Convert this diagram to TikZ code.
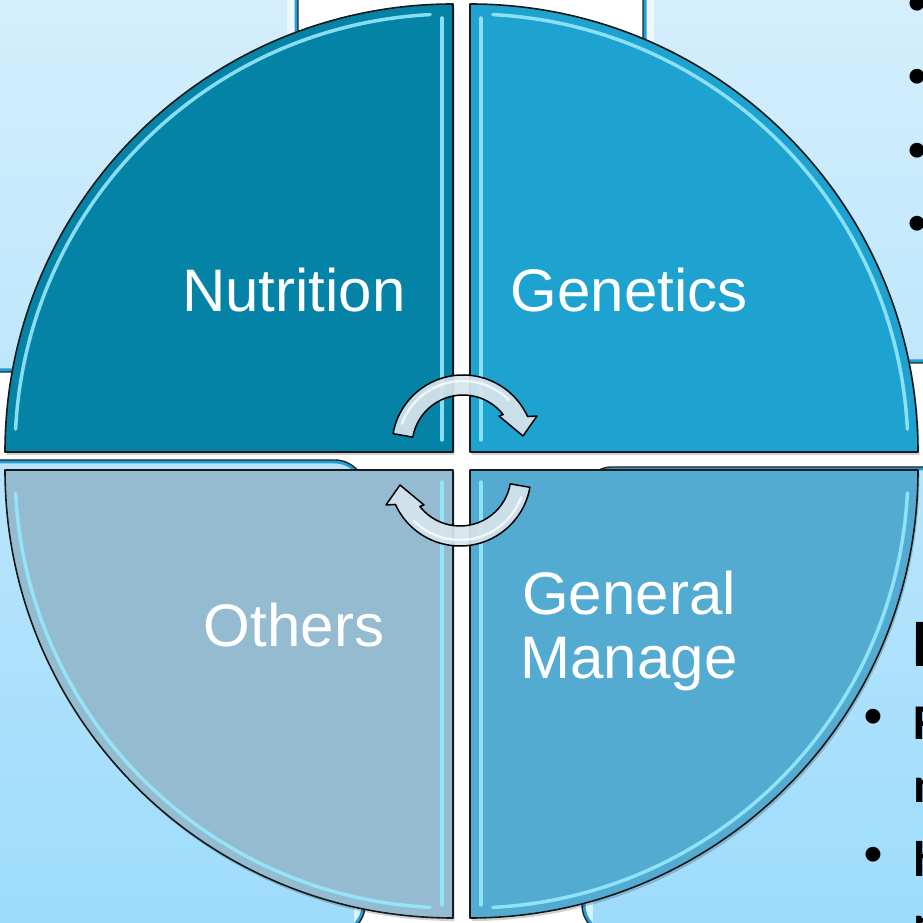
\documentclass[tikz,border=0pt]{standalone}
\usepackage{fontspec}
\setmainfont{Liberation Sans}
\newfontfamily\slidefont{Carlito}
\usepackage{tikz}
\usetikzlibrary{positioning}
\definecolor{nutri}{RGB}{5,131,166}
\definecolor{genet}{RGB}{30,162,207}
\definecolor{manage}{RGB}{84,171,209}
\definecolor{others}{RGB}{148,187,208}
\definecolor{bgtop}{RGB}{212,238,252}
\definecolor{bgbot}{RGB}{158,220,252}
\definecolor{bandc}{RGB}{30,160,215}
\definecolor{bevelc}{RGB}{150,232,252}
\definecolor{arrowc}{RGB}{214,228,235}
\tikzset{
    quarter/.style={draw=black!90, line width=1.6pt, line join=round},
    qshadow/.style={fill=black, opacity=.18},
    bevel/.style={draw=bevelc, line width=3.5pt, opacity=.9, line cap=round},
    quadtext/.style={text=white, font=\fontsize{60}{64}\selectfont, inner sep=0pt, align=center},
    slidebox/.style={draw=black!85, line width=1.4pt, rounded corners=30pt},
    band/.style={draw=bandc, line width=7pt, rounded corners=30pt},
    glow/.style={draw=white, line width=22pt, opacity=.6},
    slidetext/.style={font=\slidefont\bfseries\fontsize{50}{60}\selectfont, inner sep=0pt, anchor=base west},
    dotmark/.style={font=\slidefont\bfseries\fontsize{35}{40}\selectfont, inner sep=0pt, anchor=base},
    arrowbody/.style={fill=arrowc, fill opacity=.93, draw=black, line width=1.5pt, line join=round},
    cyclearrow/.pic={
        \filldraw[arrowbody] (170:71) arc[start angle=170, end angle=24.5, radius=71]
            -- (74,30) -- (60,10) -- (36,30) -- (38:51)
            arc[start angle=38, end angle=170, radius=51] -- cycle;
        \draw[white, opacity=.7, line width=2.5pt, line cap=round]
            (160:65) arc[start angle=160, end angle=45, radius=65];
    }
}

\begin{document}
\begin{tikzpicture}[x=1pt, y=1pt]
    \useasboundingbox (0,0) rectangle (923,923);
    \clip (0,0) rectangle (923,923);
    % slide boxes behind the circle
    \foreach \xa/\ya/\xb/\yb/\gx in {-40/551/298/963/298, 643/560/963/963/643,
            -40/-12/365/463/365, 582/-12/963/456/582} {
        \begin{scope}
            \clip[rounded corners=30pt] (\xa,\ya) rectangle (\xb,\yb);
            \shade[top color=bgtop, bottom color=bgbot] (0,0) rectangle (923,923);
            \draw[glow] (\gx,\ya) -- (\gx,\yb);
            \draw[band] (\xa,\ya) rectangle (\xb,\yb);
        \end{scope}
        \draw[slidebox] (\xa,\ya) rectangle (\xb,\yb);
    }
    % the four quarters
    \foreach \cx/\cy/\a/\col/\hx/\ha/\hb in {453/471/90/nutri/442/483/905,
            470/471/0/genet/481/483/905, 453/453/180/others/442/18/441,
            470/453/270/manage/481/18/441} {
        \fill[qshadow] (\cx+1.5,\cy-3) -- ++(\a:448) arc[start angle=\a, delta angle=90, radius=448] -- cycle;
        \fill[\col] (\cx,\cy) -- ++(\a:448) arc[start angle=\a, delta angle=90, radius=448] -- cycle;
        \draw[bevel] (\cx,\cy) ++(\a+3:438) arc[start angle=\a+3, end angle=\a+87, radius=438];
        \draw[bevel] (\hx,\ha) -- (\hx,\hb);
        \draw[quarter] (\cx,\cy) -- ++(\a:448) arc[start angle=\a, delta angle=90, radius=448] -- cycle;
    }
    \node[quadtext, anchor=base] (nutrition) at (294,611) {Nutrition};
    \node[quadtext, anchor=base] (genetics) at (629,611) {Genetics};
    \node[quadtext, anchor=base] (others) at (294,276) {Others};
    \node[quadtext] (manage) at (629,292) {General\\Manage};
    \pic (turnA) at (463,477) {cyclearrow};
    \pic[rotate=180] (turnB) at (460,448) {cyclearrow};
    % slide text cut off at the right
    \foreach \y [count=\i] in {909,836,762,689}
        \node[dotmark] (dot\i) at (917,\y) {•};
    \node[dotmark] (dot5) at (873,196) {•};
    \node[dotmark] (dot6) at (873,58) {•};
    \node[slidetext, font=\slidefont\bfseries\fontsize{68}{80}\selectfont] (head) at (912,256) {E};
    \node[slidetext] (lineA) at (913,183) {F};
    \node[slidetext] (lineB) at (913,120) {m};
    \node[slidetext] (lineC) at (913,46) {h};
    \node[slidetext] (lineD) at (913,-17) {m};
\end{tikzpicture}
\end{document}
